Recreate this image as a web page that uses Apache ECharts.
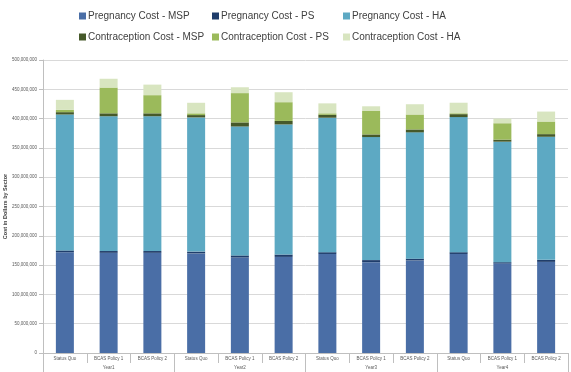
<!DOCTYPE html>
<html><head><meta charset="utf-8">
<script src="https://cdn.jsdelivr.net/npm/echarts@6/dist/echarts.min.js"></script>
<style>html,body{margin:0;padding:0;background:#fff}#c{width:571px;height:372px}</style>
</head><body><div id="c"></div>
<script>
// values in millions of dollars
const categories = ['Status Quo','BCAS Policy 1','BCAS Policy 2','Status Quo','BCAS Policy 1','BCAS Policy 2','Status Quo','BCAS Policy 1','BCAS Policy 2','Status Quo','BCAS Policy 1','BCAS Policy 2'];
const years = ['Year1','Year2','Year3','Year4'];
const yTicks = [0,50,100,150,200,250,300,350,400,450,500];
const pregMSP = [172,171,171,170,163,164,169,155,158,169,153,155.5];
const pregPS  = [3,3,3,3,3.5,4,3,3.5,3,3,2,3.5];
const pregHA  = [232,230,230,229,220,222,229.5,210,215.5,230.6,205.6,210];
const contMSP = [4,5,5,4,7,6,5,4.5,5,5,3.5,4.5];
const contPS  = [4,44,31,3,50,32,2.5,40,25.5,1.5,28,21.5];
const contHA  = [17,15,18,18,10,17,17,8,17.5,18,8,17];

const names = ['Pregnancy Cost - MSP','Pregnancy Cost - PS','Pregnancy Cost - HA','Contraception Cost - MSP','Contraception Cost - PS','Contraception Cost - HA'];
const colors = ['#4A6EA6','#1F3D6B','#5DA9C3','#46592A','#9BBA5B','#D8E5C0'];
const seriesVals = [pregMSP,pregPS,pregHA,contMSP,contPS,contHA];

const legendPos = [[79,11],[212,11],[343,11],[79,32],[212,32],[343,32]];
const chart = echarts.init(document.getElementById('c'));
const fmt = v => v.toLocaleString('en-US');
chart.setOption({
  animation:false,
  color: colors,
  legend: names.map((n,i)=>({
    data:[n], left:legendPos[i][0], top:legendPos[i][1], padding:0,
    icon:'rect', itemWidth:7, itemHeight:7,
    textStyle:{fontSize:10, color:'#404040', fontFamily:'Liberation Sans, Arial', padding:[0,0,0,-3]}
  })),
  grid:{left:43, right:3, top:60, bottom:19, outerBoundsMode:'none', containLabel:false},
  xAxis:[{
    type:'category', data:categories, position:'bottom',
    axisLine:{lineStyle:{color:'#bfbfbf'}},
    axisTick:{show:true, interval:0, length:10, lineStyle:{color:'#bfbfbf'}},
    axisLabel:{interval:0, fontSize:4.5, color:'#595959', margin:3}
  },{
    type:'category', data:years, position:'bottom', offset:10,
    axisLine:{show:false},
    axisTick:{show:true, interval:0, length:9, lineStyle:{color:'#bfbfbf'}},
    axisLabel:{interval:0, fontSize:4.5, color:'#595959', margin:2}
  }],
  yAxis:{
    type:'value', min:0, max:500000000, interval:50000000,
    name:'Cost in Dollars by Sector', nameLocation:'middle', nameGap:35, nameMoveOverlap:false,
    nameTextStyle:{fontSize:5.5, fontWeight:'bold', color:'#404040'},
    axisLine:{show:true, lineStyle:{color:'#bfbfbf'}},
    axisTick:{show:true, length:4, lineStyle:{color:'#bfbfbf'}},
    axisLabel:{fontSize:4.5, color:'#595959', margin:6, formatter:v=>fmt(v)},
    splitLine:{lineStyle:{color:'#d9d9d9'}}
  },
  series: names.map((n,i)=>({
    name:n, type:'bar', stack:'total', barWidth:18, xAxisIndex:0,
    itemStyle:{color:colors[i]},
    data: seriesVals[i].map(v=>v*1e6)
  }))
});
</script></body></html>
